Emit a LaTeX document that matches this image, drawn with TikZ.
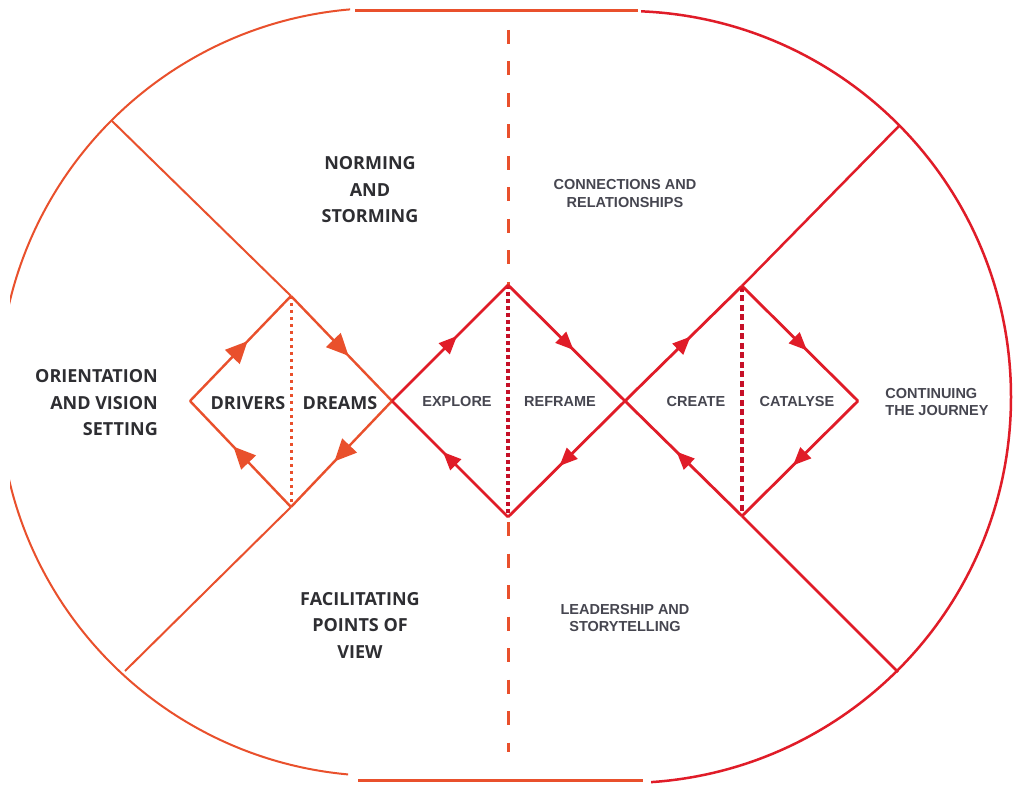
\documentclass[tikz,border=0pt]{standalone}
\usepackage{fontspec}
\newfontfamily\labfont{Open Sans}
\newfontfamily\stagefont{Liberation Sans}
\usetikzlibrary{arrows.meta,decorations.markings}
\definecolor{orng}{RGB}{233,80,44}
\definecolor{rd}{RGB}{224,28,40}
\definecolor{dkrd}{RGB}{198,16,40}
\definecolor{txtA}{RGB}{46,46,50}
\definecolor{txtB}{RGB}{70,70,80}
\begin{document}
\begin{tikzpicture}[x=1pt,y=-1pt,
  lab/.style={font=\labfont\bfseries\fontsize{18}{26.5}\selectfont, text=txtA, inner sep=0pt},
  stage/.style={font=\stagefont\bfseries\fontsize{14.5}{17.5}\selectfont, text=txtB, inner sep=0pt},
  smalledge/.style={orng, line width=2.4pt, postaction={decorate,decoration={markings,
      mark=at position 0.57 with {\arrow{Triangle[length=22pt,width=20pt]}}}}},
  bigedge/.style={rd, line width=2.8pt, postaction={decorate,decoration={markings,
      mark=at position 0.56 with {\arrow{Triangle[length=18pt,width=15pt]}}}}},
  leftline/.style={orng, line width=2pt},
  rightline/.style={rd, line width=2.5pt},
  vdash/.style={orng, line width=3pt, dash pattern=on 14pt off 17.5pt}
]
\useasboundingbox (0,0) rectangle (1013,786);
\fill[white] (0,0) rectangle (1013,786);

% key points
\coordinate (SL) at (190,401);
\coordinate (ST) at (291,296);
\coordinate (SR) at (392,401);
\coordinate (SB) at (291,507);
\coordinate (AT) at (508,285);
\coordinate (AR) at (625,401);
\coordinate (AB) at (508,517);
\coordinate (BT) at (742,286);
\coordinate (BR) at (858,401);
\coordinate (BB) at (742,516);
\coordinate (UL) at (112,121);
\coordinate (LL) at (125,671);
\coordinate (UR) at (899,126);
\coordinate (LR) at (898,672);
\coordinate (TopA) at (355,11);
\coordinate (TopB) at (638,11);
\coordinate (BotA) at (358,780);
\coordinate (BotB) at (643,780);
\coordinate (DashTop) at (508,30);
\coordinate (DashBot) at (508,752);
\coordinate (DashMid) at (508,522);

% outer left arc
\begin{scope}
  \clip (10,0) -- (350,0) -- (350,397) -- (348,397) -- (348,786) -- (10,786) -- cycle;
  \draw[orng, line width=2pt] (383,392) circle[radius=384];
\end{scope}
% outer right arc
\begin{scope}
  \clip (641,0) -- (1013,0) -- (1013,786) -- (651,786) -- (651,397) -- (641,397) -- cycle;
  \draw[rd, line width=2.5pt] (625,397) circle[radius=386];
\end{scope}
% straight top and bottom
\draw[orng, line width=3pt] (TopA) -- (TopB);
\draw[orng, line width=3pt] (BotA) -- (BotB);

% radial dividers
\draw[leftline] (UL) -- (ST);
\draw[leftline] (LL) -- (SB);
\draw[rightline] (BT) -- (UR);
\draw[rightline] (BB) -- (LR);

% vertical divider
\draw[vdash] (DashTop) -- (AT);
\draw[vdash] (DashMid) -- (DashBot);
\draw[orng, line width=3pt, dash pattern=on 3pt off 4pt] (ST) -- (SB);
\draw[dkrd, line width=3.5pt, dash pattern=on 4pt off 3pt] (AT) -- (AB);
\draw[dkrd, line width=4.5pt, dash pattern=on 6pt off 3.5pt] (BT) -- (BB);

% small diamond
\draw[smalledge] (SL) -- (ST);
\draw[smalledge] (ST) -- (SR);
\draw[smalledge] (SR) -- (SB);
\draw[smalledge] (SB) -- (SL);
% diamond 1
\draw[bigedge] (SR) -- (AT);
\draw[bigedge] (AT) -- (AR);
\draw[bigedge] (AR) -- (AB);
\draw[bigedge] (AB) -- (SR);
% diamond 2
\draw[bigedge] (AR) -- (BT);
\draw[bigedge] (BT) -- (BR);
\draw[bigedge] (BR) -- (BB);
\draw[bigedge] (BB) -- (AR);

% labels
\node[lab, align=center] (norm) at (370,190) {NORMING\\AND\\STORMING};
\node[lab, align=right, anchor=east] (orient) at (158,403) {ORIENTATION\\AND VISION\\SETTING};
\node[lab, align=center] (facil) at (360,625) {FACILITATING\\POINTS OF\\VIEW};
\node[lab] (drivers) at (248,403) {DRIVERS};
\node[lab] (dreams) at (340,403) {DREAMS};

\node[stage, align=center] (conn) at (625,193.5) {CONNECTIONS AND\\RELATIONSHIPS};
\node[stage, align=center] (lead) at (625,618) {LEADERSHIP AND\\STORYTELLING};
\node[stage, align=left] (cont) at (937,402) {CONTINUING\\THE JOURNEY};
\node[stage] (explore) at (457,402) {EXPLORE};
\node[stage] (reframe) at (560,402) {REFRAME};
\node[stage] (create) at (696,402) {CREATE};
\node[stage] (catalyse) at (797,402) {CATALYSE};
\end{tikzpicture}
\end{document}
